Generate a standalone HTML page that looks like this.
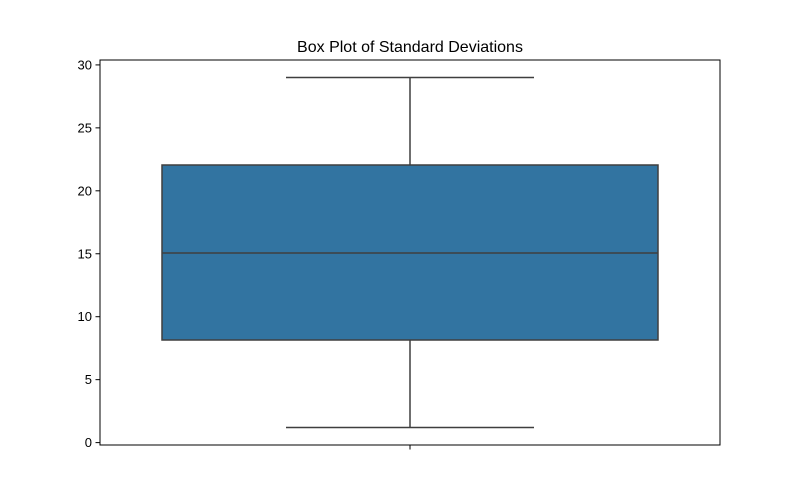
<!DOCTYPE html>
<html><head><meta charset="utf-8"><style>
body{margin:0;background:#fff;}
svg{display:block;font-family:"Liberation Sans",sans-serif;}
</style></head><body>
<svg id="chart" width="800" height="500">
<text x="410" y="52" text-anchor="middle" font-size="16" fill="#000">Box Plot of Standard Deviations</text>
<g id="plot"></g>
</svg>
<script>
const yTicks = [0, 5, 10, 15, 20, 25, 30];
const whiskerLow = [1.2];
const q1 = [8.15];
const median = [15.06];
const q3 = [22.05];
const whiskerHigh = [29.0];

const NS = "http://www.w3.org/2000/svg";
const L = 100, R = 720, T = 60, B = 445;
const yMin = -0.19, yMax = 30.39;
function y(v){ return B - (v - yMin) / (yMax - yMin) * (B - T); }
const cx = (L + R) / 2, boxW = (R - L) * 0.8, capW = boxW / 2;
const g = document.getElementById('plot');
function mk(tag, attrs){ const e = document.createElementNS(NS, tag); for (const k in attrs) e.setAttribute(k, attrs[k]); g.appendChild(e); return e; }

let e;
e = mk('line', {x1: cx, x2: cx, y1: y(whiskerLow[0]), y2: y(q1[0]), stroke: '#3f3f3f', 'stroke-width': 1.5});


e = mk('line', {x1: cx, x2: cx, y1: y(q3[0]), y2: y(whiskerHigh[0]), stroke: '#3f3f3f', 'stroke-width': 1.5});


e = mk('line', {x1: cx - capW / 2, x2: cx + capW / 2, y1: y(whiskerLow[0]), y2: y(whiskerLow[0]), stroke: '#3f3f3f', 'stroke-width': 1.5});


e = mk('line', {x1: cx - capW / 2, x2: cx + capW / 2, y1: y(whiskerHigh[0]), y2: y(whiskerHigh[0]), stroke: '#3f3f3f', 'stroke-width': 1.5});


e = mk('rect', {x: cx - boxW / 2, y: y(q3[0]), width: boxW, height: y(q1[0]) - y(q3[0]), fill: '#3274a1', stroke: '#3f3f3f', 'stroke-width': 1.5});


e = mk('line', {x1: cx - boxW / 2, x2: cx + boxW / 2, y1: y(median[0]), y2: y(median[0]), stroke: '#3f3f3f', 'stroke-width': 1.5});



e = mk('rect', {x: L, y: T, width: R - L, height: B - T, fill: 'none', stroke: '#000', 'stroke-width': 1});



yTicks.forEach(t => {
  const yy = y(t);
  const tk = mk('line', {x1: L - 4.5, x2: L, y1: yy, y2: yy, stroke: '#000', 'stroke-width': 1});
  
  
  const tx = mk('text', {x: L - 8, y: yy + 4.5, 'text-anchor': 'end', 'font-size': 13, fill: '#000'});
  tx.textContent = t;
  
  
});
e = mk('line', {x1: cx, x2: cx, y1: B, y2: B + 4.5, stroke: '#000', 'stroke-width': 1});


</script>
</body></html>
